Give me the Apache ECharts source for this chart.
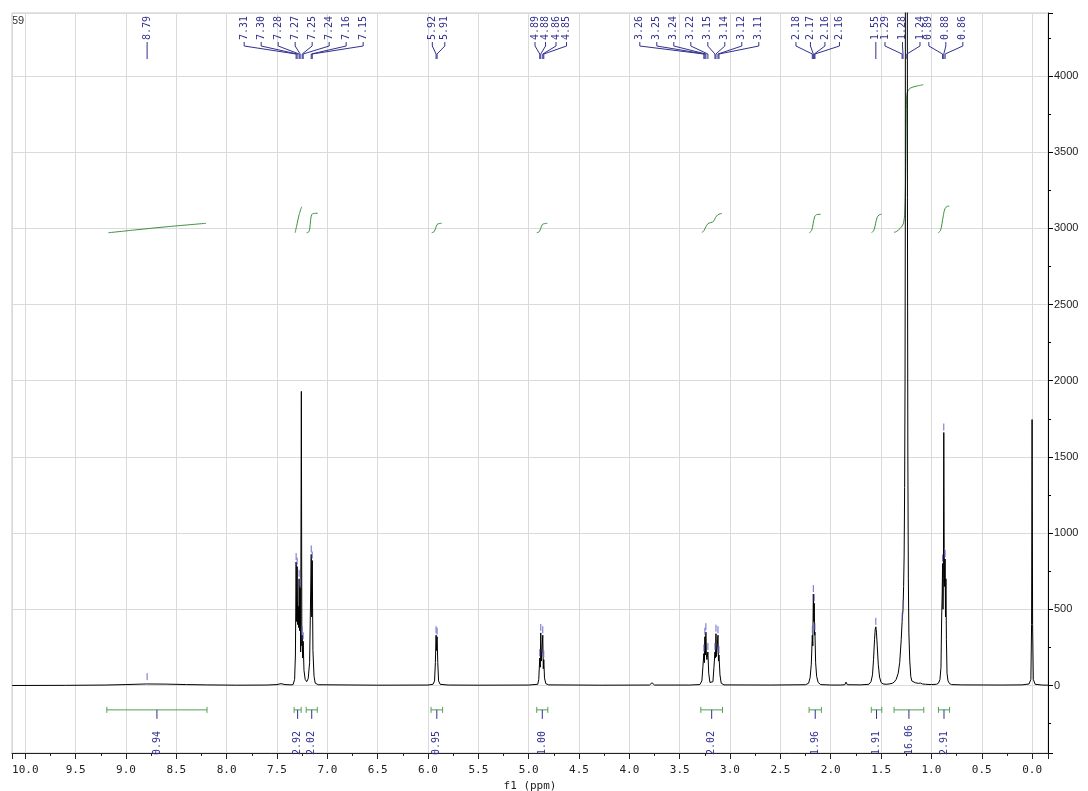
<!DOCTYPE html>
<html><head><meta charset="utf-8">
<script src="https://cdn.jsdelivr.net/npm/echarts@6/dist/echarts.min.js"></script>
<style>html,body{margin:0;padding:0;background:#fff}#c{width:1088px;height:791px}</style>
</head><body><div id="c"></div>
<script>
// ---------- spectrum (ppm, intensity) ----------
const spectrumBaselineNH = [[10.13,0],[9.6,1],[9.2,3],[9.0,6],[8.85,9],[8.795,10],[8.79,22],[8.785,10],[8.6,9],[8.4,6],[8.2,4],[7.9,2],[7.6,3],[7.5,6],[7.46,12],[7.42,6],[7.36,4]];
const spectrumAromatic = [[7.34,6],[7.325,40],[7.317,200],[7.31,810],[7.305,420],[7.30,780],[7.295,400],[7.289,520],[7.284,380],[7.28,700],[7.275,360],[7.27,640],[7.265,220],[7.258,1930],[7.253,260],[7.25,330],[7.245,180],[7.24,290],[7.232,100],[7.22,40],[7.205,25],[7.19,45],[7.176,150],[7.16,860],[7.155,450],[7.15,820],[7.143,230],[7.132,60],[7.12,15],[7.09,5]];
const spectrumVinyl = [[6.5,2],[6.0,3],[5.95,8],[5.935,30],[5.927,150],[5.92,330],[5.915,230],[5.91,320],[5.903,150],[5.895,30],[5.88,8],[5.8,3]];
const spectrumMethine = [[5.5,2],[5.0,3],[4.91,8],[4.90,40],[4.89,180],[4.885,120],[4.88,345],[4.875,160],[4.87,150],[4.865,160],[4.86,330],[4.855,110],[4.85,170],[4.843,50],[4.83,12],[4.8,4],[4.5,3],[4.30,2],[4.285,10],[4.27,2],[3.80,3],[3.775,18],[3.75,3]];
const spectrumSCH = [[3.4,3],[3.30,6],[3.28,30],[3.27,120],[3.26,210],[3.255,150],[3.25,320],[3.245,200],[3.24,350],[3.235,200],[3.23,170],[3.22,220],[3.212,80],[3.20,20],[3.185,8],[3.17,25],[3.16,120],[3.15,220],[3.145,180],[3.14,340],[3.135,190],[3.13,200],[3.12,330],[3.115,160],[3.11,200],[3.10,70],[3.088,15],[3.06,4]];
const spectrumAllyl = [[2.6,3],[2.25,5],[2.22,15],[2.205,50],[2.193,140],[2.183,330],[2.178,260],[2.173,600],[2.168,420],[2.164,540],[2.160,330],[2.157,350],[2.150,150],[2.14,60],[2.125,20],[2.10,6],[2.0,3]];
const spectrumBeta = [[1.90,3],[1.86,5],[1.848,22],[1.835,5],[1.70,4],[1.62,8],[1.60,25],[1.585,70],[1.575,170],[1.565,300],[1.558,370],[1.552,385],[1.546,350],[1.538,260],[1.528,140],[1.515,55],[1.50,20],[1.48,10],[1.45,8]];
const spectrumChain = [[1.42,10],[1.39,14],[1.37,22],[1.35,40],[1.33,80],[1.315,150],[1.30,300],[1.291,420],[1.282,500],[1.276,650],[1.271,850],[1.266,1300],[1.262,2000],[1.259,3200],[1.254,20000],[1.244,20000],[1.238,3200],[1.234,1500],[1.229,700],[1.224,350],[1.215,160],[1.205,60],[1.195,30],[1.16,18],[1.13,14],[1.11,16],[1.09,10],[1.06,8],[1.0,6]];
const spectrumMethyl = [[0.95,8],[0.93,15],[0.915,40],[0.905,120],[0.898,450],[0.893,600],[0.889,800],[0.885,500],[0.881,700],[0.877,1660],[0.873,900],[0.869,650],[0.864,830],[0.860,450],[0.856,700],[0.851,300],[0.845,80],[0.835,30],[0.82,12],[0.80,6]];
const spectrumTMS = [[0.7,4],[0.3,3],[0.1,4],[0.03,10],[0.012,40],[0.005,400],[0.0,1745],[-0.005,400],[-0.012,40],[-0.03,8],[-0.1,3],[-0.158,2]];

// ---------- peak picking labels ----------
const peakPpm = [
  [8.79],
  [7.31, 7.30, 7.28, 7.27, 7.25, 7.24, 7.16, 7.15],
  [5.92, 5.91],
  [4.89, 4.88, 4.86, 4.85],
  [3.26, 3.25, 3.24, 3.22, 3.15, 3.14, 3.12, 3.11],
  [2.183, 2.173, 2.164, 2.157],
  [1.552],
  [1.291, 1.282, 1.244],
  [0.889, 0.877, 0.864]
];
const peakText = [
  ['8.79'],
  ['7.31','7.30','7.28','7.27','7.25','7.24','7.16','7.15'],
  ['5.92','5.91'],
  ['4.89','4.88','4.86','4.85'],
  ['3.26','3.25','3.24','3.22','3.15','3.14','3.12','3.11'],
  ['2.18','2.17','2.16','2.16'],
  ['1.55'],
  ['1.29','1.28','1.24'],
  ['0.89','0.88','0.86']
];
const peakHeight = [
  [22],
  [810,780,700,640,330,290,860,820],
  [330,320],
  [180,345,330,170],
  [210,320,350,220,220,340,330,200],
  [330,600,540,350],
  [385],
  [420,500,20000],
  [800,1660,830]
];

// ---------- integrals ----------
const integralFrom = [9.19, 7.33, 7.21, 5.97, 4.92, 3.29, 2.215, 1.597, 1.371, 0.93];
const integralTo   = [8.195, 7.26, 7.10, 5.855, 4.81, 3.075, 2.093, 1.493, 1.076, 0.82];
const integralText = ['0.94','2.92','2.02','0.95','1.00','2.02','1.96','1.91','16.06','2.91'];
const integralCurves = [
  [[9.175,2971],[8.9,2990],[8.6,3010],[8.205,3033]],
  [[7.32,2971],[7.30,3030],[7.28,3090],[7.255,3142]],
  [[7.205,2971],[7.185,2976],[7.175,2995],[7.165,3060],[7.155,3090],[7.14,3097],[7.096,3099]],
  [[5.963,2971],[5.94,2978],[5.925,3000],[5.91,3025],[5.89,3031],[5.864,3033]],
  [[4.92,2971],[4.895,2978],[4.88,3000],[4.865,3025],[4.84,3031],[4.815,3033]],
  [[3.28,2971],[3.26,2985],[3.24,3010],[3.22,3030],[3.19,3038],[3.165,3045],[3.145,3070],[3.12,3090],[3.08,3098]],
  [[2.213,2971],[2.19,2985],[2.175,3030],[2.16,3075],[2.14,3090],[2.10,3092]],
  [[1.593,2971],[1.57,2990],[1.555,3030],[1.54,3070],[1.52,3088],[1.494,3092]],
  [[1.372,2974],[1.35,2978],[1.31,3000],[1.28,3030],[1.265,3100],[1.255,3400],[1.25,3750],[1.245,3870],[1.235,3900],[1.21,3920],[1.15,3933],[1.081,3942]],
  [[0.932,2971],[0.91,2985],[0.895,3030],[0.88,3090],[0.865,3130],[0.845,3143],[0.822,3146]]
];

// ---------- layout / style (not data) ----------
const labelLayout = [
  {step:0,offset:0},{step:17,offset:1},{step:12.5,offset:2},{step:10.5,offset:9},
  {step:17,offset:-12},{step:14.5,offset:4},{step:0,offset:0},{step:17.5,offset:-1.5},{step:17,offset:2}
];
const integralBarLevel = -160;
const labelColor = '#30308f';
const markerColor = '#6a6ad0';
const integralColor = '#3d9140';
const barColor = '#55a055';
const monoFont = '"DejaVu Sans Mono", "Liberation Mono", monospace';

const spectrum = [].concat(spectrumBaselineNH, spectrumAromatic, spectrumVinyl, spectrumMethine,
  spectrumSCH, spectrumAllyl, spectrumBeta, spectrumChain, spectrumMethyl, spectrumTMS);

function renderPeakLabels(params, api) {
  const g = params.dataIndex;
  const top = params.coordSys.y;
  const ppms = peakPpm[g], texts = peakText[g], hs = peakHeight[g], lay = labelLayout[g];
  const n = ppms.length;
  const pxs = ppms.map(p => api.coord([p, 0])[0]);
  const center = pxs.reduce((a, b) => a + b, 0) / n + lay.offset;
  const children = [];
  for (let i = 0; i < n; i++) {
    const px = pxs[i];
    const lx = n === 1 ? px : center + (i - (n - 1) / 2) * lay.step;
    children.push({
      type: 'text', x: lx, y: top + 27, rotation: Math.PI / 2,
      style: { text: texts[i], fill: labelColor, font: '10px ' + monoFont, align: 'left', verticalAlign: 'middle' }
    });
    children.push({
      type: 'polyline',
      shape: { points: [[lx, top + 29], [lx, top + 33], [px, top + 41], [px, top + 46]] },
      style: { stroke: labelColor, fill: null, lineWidth: 1 }
    });
    const tip = api.coord([ppms[i], hs[i]]);
    if (tip[1] - 9 > top) {
      children.push({ type: 'line', shape: { x1: px, y1: tip[1] - 9, x2: px, y2: tip[1] - 2 },
        style: { stroke: markerColor, lineWidth: 1 } });
    }
  }
  return { type: 'group', children };
}

function renderIntegral(params, api) {
  const i = params.dataIndex;
  const cs = params.coordSys;
  const bottom = cs.y + cs.height;
  const a = api.coord([integralFrom[i], integralBarLevel]);
  const b = api.coord([integralTo[i], integralBarLevel]);
  const cx = (a[0] + b[0]) / 2, y = a[1];
  return {
    type: 'group',
    children: [
      { type: 'line', shape: { x1: a[0], y1: y, x2: b[0], y2: y }, style: { stroke: barColor, lineWidth: 1 } },
      { type: 'line', shape: { x1: a[0], y1: y - 3, x2: a[0], y2: y + 3 }, style: { stroke: barColor, lineWidth: 1 } },
      { type: 'line', shape: { x1: b[0], y1: y - 3, x2: b[0], y2: y + 3 }, style: { stroke: barColor, lineWidth: 1 } },
      { type: 'line', shape: { x1: cx, y1: y, x2: cx, y2: y + 9 }, style: { stroke: labelColor, lineWidth: 1 } },
      { type: 'text', x: cx, y: bottom + 2, rotation: Math.PI / 2,
        style: { text: integralText[i], fill: labelColor, font: '10px ' + monoFont, align: 'left', verticalAlign: 'middle' } }
    ]
  };
}

const chart = echarts.init(document.getElementById('c'), null, { renderer: 'canvas' });
chart.setOption({
  animation: false,
  backgroundColor: '#ffffff',
  grid: { left: 12, right: 40, top: 13, bottom: 38, show: true, borderColor: '#c8c8c8', borderWidth: 1,
          containLabel: false, outerBoundsMode: 'none' },
  graphic: [{ type: 'text', left: 12, top: 15, style: { text: '59', font: '11px "Liberation Sans", Arial', fill: '#333' } }],
  xAxis: {
    type: 'value', inverse: true, min: -0.158, max: 10.132, splitNumber: 20, minInterval: 0.5, maxInterval: 0.5,
    axisLine: { show: true, onZero: false, lineStyle: { color: '#222', width: 1 } },
    axisTick: { show: true, length: 6, lineStyle: { color: '#222' } },
    minorTick: { show: true, splitNumber: 2, length: 3, lineStyle: { color: '#222' } },
    axisLabel: { margin: 12, color: '#222', fontSize: 11, fontFamily: monoFont, showMinLabel: false, showMaxLabel: false,
                 formatter: v => v.toFixed(1) },
    splitLine: { show: true, lineStyle: { color: '#dadada', width: 1 } },
    minorSplitLine: { show: false },
    name: 'f1 (ppm)', nameLocation: 'middle', nameGap: 25,
    nameTextStyle: { fontFamily: monoFont, fontSize: 11, color: '#222' }
  },
  yAxis: {
    type: 'value', position: 'right', min: -443, max: 4413, splitNumber: 10, minInterval: 500, maxInterval: 500,
    axisLine: { show: true, onZero: false, lineStyle: { color: '#000', width: 1 } },
    axisTick: { show: true, length: 5, lineStyle: { color: '#000' } },
    minorTick: { show: true, splitNumber: 2, length: 3, lineStyle: { color: '#000' } },
    axisLabel: { margin: 6, color: '#222', fontSize: 11, fontFamily: '"Liberation Sans", Arial, sans-serif',
                 showMinLabel: false, showMaxLabel: false, formatter: v => String(Math.round(v)) },
    splitLine: { show: true, lineStyle: { color: '#dadada', width: 1 } }
  },
  series: [
    { type: 'line', data: spectrum, symbol: 'none', showSymbol: false, clip: true, silent: true, z: 3,
      lineStyle: { color: '#000', width: 1 }, itemStyle: { color: '#000' } }
  ].concat(integralCurves.map(c => ({
    type: 'line', data: c, symbol: 'none', showSymbol: false, smooth: 0.3, silent: true, z: 2,
    lineStyle: { color: integralColor, width: 1 }, itemStyle: { color: integralColor }
  }))).concat([
    { type: 'custom', renderItem: renderPeakLabels, data: peakPpm.map(g => [g[0], 0]), z: 5, clip: false, silent: true },
    { type: 'custom', renderItem: renderIntegral, data: integralFrom.map(f => [f, 0]), z: 6, clip: false, silent: true }
  ])
});
</script></body></html>
